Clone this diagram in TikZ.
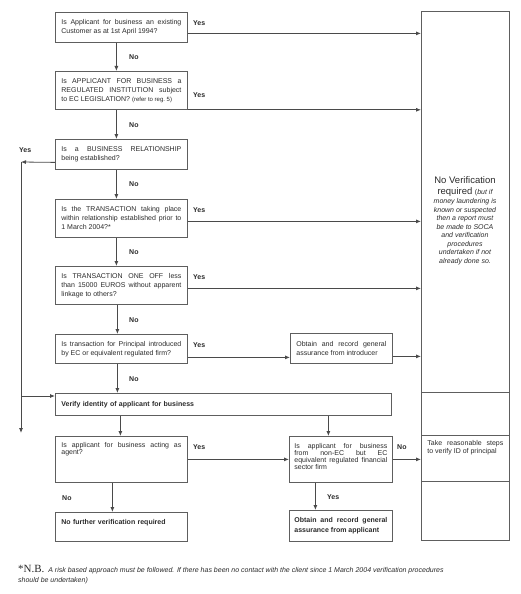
\documentclass[tikz,border=0pt]{standalone}
\usepackage{fontspec}
\setmainfont{Liberation Sans}
\newfontfamily\nbfont{Liberation Serif}
\usetikzlibrary{arrows.meta}
\definecolor{linec}{HTML}{4A4A4A}
\definecolor{boxc}{HTML}{5E5E5E}
\definecolor{txtc}{HTML}{2A2A2A}
\hyphenpenalty=10000 \exhyphenpenalty=10000
\hbadness=10000
\begin{document}
\begin{tikzpicture}[x=1pt,y=-1pt,
  box/.style={draw=boxc, line width=0.8pt, anchor=north west, inner xsep=6pt, inner ysep=0pt,
    text=txtc, font=\fontsize{7}{9}\selectfont, align=justify},
  boldbox/.style={box, font=\fontsize{7}{10}\selectfont\bfseries},
  tightbox/.style={box, font=\fontsize{7}{7}\selectfont},
  colbox/.style={draw=boxc, line width=0.8pt, anchor=north west, inner sep=0pt, minimum width=88pt},
  arr/.style={draw=linec, line width=0.8pt, -{Latex[length=5pt,width=4pt]}},
  lbl/.style={font=\fontsize{7}{9}\selectfont\bfseries, text=txtc, inner sep=0pt, anchor=base west},
]
\useasboundingbox (0,0) rectangle (520,594);

% left column questions
\node[box, text width=120pt, minimum height=30pt] (b1) at (55,12)
  {Is Applicant for business an existing\linebreak Customer as at 1st April 1994?};
\node[box, text width=120pt, minimum height=38pt] (b2) at (55,71)
  {Is APPLICANT FOR BUSINESS a\linebreak REGULATED INSTITUTION subject\linebreak to EC LEGISLATION? {\fontsize{6}{9}\selectfont(refer to reg.~5)}};
\node[box, text width=120pt, minimum height=30pt] (b3) at (55,139)
  {Is a BUSINESS RELATIONSHIP\linebreak being established?};
\node[box, text width=120pt, minimum height=38pt] (b4) at (55,199)
  {Is the TRANSACTION taking place\linebreak within relationship established prior to\linebreak 1 March 2004?*};
\node[box, text width=120pt, minimum height=38pt] (b5) at (55,266)
  {Is TRANSACTION ONE OFF less\linebreak than 15000 EUROS without apparent\linebreak linkage to others?};
\node[box, text width=120pt, minimum height=29pt] (b6) at (55,334)
  {\parfillskip=0pt Is transaction for Principal introduced\linebreak by EC or equivalent regulated firm?};
\node[box, text width=90pt, minimum height=30pt] (obtI) at (290,333)
  {Obtain and record general\linebreak assurance from introducer};
\node[boldbox, text width=324pt, minimum height=22pt, align=left] (verify) at (55,393)
  {Verify identity of applicant for business};
\node[tightbox, text width=120pt, minimum height=46pt] (agent) at (55,436)
  {Is applicant for business acting as\linebreak agent?\par\vspace*{20pt}};
\node[tightbox, inner xsep=5pt, text width=93pt, minimum height=46pt] (nonEC) at (289,436)
  {Is applicant for business\linebreak from non-EC but EC\linebreak equivalent regulated financial\linebreak sector firm\par\vspace*{5pt}};
\node[boldbox, text width=120pt, minimum height=29pt, align=left] (nofurther) at (55,512)
  {No further verification required\par\vspace*{9pt}};
\node[boldbox, inner xsep=5pt, text width=93pt, minimum height=31pt] (obtA) at (289,510)
  {Obtain and record general\linebreak assurance from applicant};

% right column
\node[colbox, minimum height=381pt] (nv) at (421,11) {};
\node[colbox, minimum height=43pt] (r2) at (421,392) {};
\node[box, inner xsep=6pt, text width=76pt, minimum height=46pt, font=\fontsize{7}{8}\selectfont] (steps) at (421,435)
  {Take reasonable steps\linebreak to verify ID of principal\par\vspace*{22pt}};
\node[colbox, minimum height=59pt] (r4) at (421,481) {};
\node[align=center, text=txtc, inner sep=0pt, font=\fontsize{9.5}{10.5}\selectfont] (nvtext) at (465,221)
  {No Verification\\ required {\fontsize{7}{8}\selectfont(\itshape but if}\\[-1pt]
   {\fontsize{7}{8.6}\selectfont\itshape money laundering is}\\[-2pt]
   {\fontsize{7}{8.6}\selectfont\itshape known or suspected}\\[-2pt]
   {\fontsize{7}{8.6}\selectfont\itshape then a report must}\\[-2pt]
   {\fontsize{7}{8.6}\selectfont\itshape be made to SOCA}\\[-2pt]
   {\fontsize{7}{8.6}\selectfont\itshape and verification}\\[-2pt]
   {\fontsize{7}{8.6}\selectfont\itshape procedures}\\[-2pt]
   {\fontsize{7}{8.6}\selectfont\itshape undertaken if not}\\[-2pt]
   {\fontsize{7}{8.6}\selectfont\itshape already done so.}};

% vertical No arrows
\draw[arr] ([xshift=-5pt]b1.south) -- ([xshift=-5pt]b2.north);
\draw[arr] ([xshift=-5pt]b2.south) -- ([xshift=-5pt]b3.north);
\draw[arr] ([xshift=-5pt]b3.south) -- ([xshift=-5pt]b4.north);
\draw[arr] ([xshift=-5pt]b4.south) -- ([xshift=-5pt]b5.north);
\draw[arr] ([xshift=-4pt]b5.south) -- ([xshift=-4pt]b6.north);
\coordinate (v0) at ([xshift=-4pt]b6.south);
\draw[arr] (v0) -- (v0 |- verify.north);
\coordinate (v1) at ([xshift=-1pt]agent.north);
\draw[arr] (v1 |- verify.south) -- (v1);
\coordinate (v2) at ([xshift=-12.5pt]nonEC.north);
\draw[arr] (v2 |- verify.south) -- (v2);
\draw[arr] ([xshift=-9pt]agent.south) -- ([xshift=-9pt]nofurther.north);
\draw[arr] ([xshift=-25.5pt]nonEC.south) -- ([xshift=-25.5pt]obtA.north);

% horizontal Yes arrows
\coordinate (h1) at ([yshift=-6pt]b1.east);
\draw[arr] (h1) -- (h1 -| nv.west);
\draw[arr] (b2.south east) -- (b2.south east -| nv.west);
\coordinate (h4) at ([yshift=-3pt]b4.east);
\draw[arr] (h4) -- (h4 -| nv.west);
\coordinate (h5) at ([yshift=-3pt]b5.east);
\draw[arr] (h5) -- (h5 -| nv.west);
\coordinate (h6) at ([yshift=-8.5pt]b6.east);
\draw[arr] (h6) -- (h6 -| obtI.west);
\coordinate (h7) at ([yshift=-8pt]obtI.east);
\draw[arr] (h7) -- (h7 -| nv.west);
\draw[arr] (agent.east) -- (agent.east -| nonEC.west);
\draw[arr] (nonEC.east) -- (nonEC.east -| steps.west);

% left loop
\coordinate (L1) at (21,162);
\coordinate (L2) at (21,433);
\coordinate (L3) at (21,396);
\draw[arr] ([yshift=-8pt]b3.west) -- (L1);
\draw[arr] (L1) -- (L2);
\draw[arr] (L3) -- (L3 -| verify.west);

% labels
\node[lbl] (y1) at (193,25.5) {Yes};
\node[lbl] (y2) at (193,97.5) {Yes};
\node[lbl] (y3) at (19,152.5) {Yes};
\node[lbl] (y4) at (193,212) {Yes};
\node[lbl] (y5) at (193,279.5) {Yes};
\node[lbl] (y6) at (193,347) {Yes};
\node[lbl] (y7) at (193,449.5) {Yes};
\node[lbl] (y8) at (327,499.5) {Yes};
\node[lbl] (n1) at (129,59.5) {No};
\node[lbl] (n2) at (129,127) {No};
\node[lbl] (n3) at (129,186) {No};
\node[lbl] (n4) at (129,254.5) {No};
\node[lbl] (n5) at (129,322) {No};
\node[lbl] (n6) at (129,381) {No};
\node[lbl] (n7) at (397,449.5) {No};
\node[lbl] (n8) at (62,500) {No};

% footnote
\node[anchor=north west, inner sep=0pt, align=left, text=txtc, font=\fontsize{7}{10}\selectfont\itshape] (nb) at (18,565)
  {{\nbfont\upshape\fontsize{11}{10}\selectfont *N.B.}\ \ A risk based approach must be followed. If there has been no contact with the client since 1 March 2004 verification procedures\\ should be undertaken)};
\end{tikzpicture}
\end{document}
